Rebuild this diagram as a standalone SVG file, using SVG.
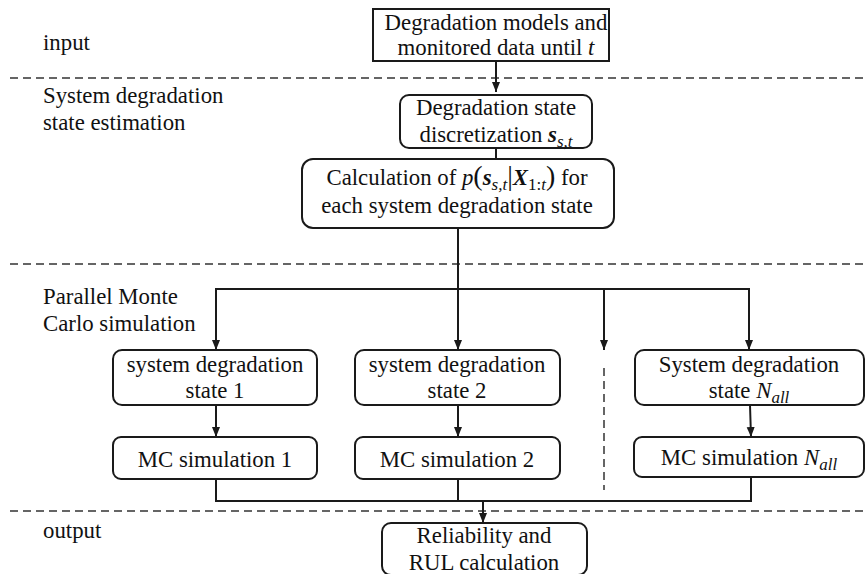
<svg xmlns="http://www.w3.org/2000/svg" width="866" height="574" viewBox="0 0 866 574">
<style>
.c{text-anchor:middle}
.box{fill:#fff;stroke:#1a1a1a;stroke-width:2}
.ln{fill:none;stroke:#1a1a1a;stroke-width:2}
.dash{fill:none;stroke:#333;stroke-width:1.5;stroke-dasharray:8 5}
.i{font-style:italic}
.bi{font-style:italic;font-weight:bold}
.sub{font-size:17px;font-style:italic}
.subu{font-size:17px}
</style>
<defs>
<marker id="arr" viewBox="0 0 10 10" refX="10" refY="5" markerWidth="10" markerHeight="10" markerUnits="userSpaceOnUse" orient="auto">
<path d="M0,1 L10,5 L0,9 Z" fill="#1a1a1a"/>
</marker>
</defs>
<rect width="866" height="574" fill="#fff"/>
<g font-family="'Liberation Serif', 'Times New Roman', Times, serif" font-size="22.8" fill="#111">
<g id="lanes">
<line class="dash" x1="10" y1="78" x2="866" y2="78"/>
<line class="dash" x1="10" y1="264" x2="866" y2="264"/>
<line class="dash" x1="10" y1="511" x2="866" y2="511"/>
<line class="dash" x1="604" y1="368" x2="604" y2="490"/>
<text x="43" y="50">input</text>
<text x="43" y="103">System degradation</text>
<text x="43" y="130">state estimation</text>
<text x="43" y="304">Parallel Monte</text>
<text x="43" y="331">Carlo simulation</text>
<text x="43" y="538">output</text>
</g>
<g id="connectors">
<line class="ln" x1="496" y1="61" x2="496" y2="92" marker-end="url(#arr)"/>
<line class="ln" x1="496" y1="148" x2="496" y2="174" marker-end="url(#arr)"/>
<line class="ln" x1="458" y1="228" x2="458" y2="350" marker-end="url(#arr)"/>
<line class="ln" x1="216" y1="289" x2="749" y2="289"/>
<line class="ln" x1="216" y1="288" x2="216" y2="350" marker-end="url(#arr)"/>
<line class="ln" x1="604" y1="288" x2="604" y2="350" marker-end="url(#arr)"/>
<line class="ln" x1="749" y1="288" x2="749" y2="350" marker-end="url(#arr)"/>
<line class="ln" x1="216" y1="405" x2="216" y2="437" marker-end="url(#arr)"/>
<line class="ln" x1="458" y1="405" x2="458" y2="437" marker-end="url(#arr)"/>
<line class="ln" x1="750" y1="405" x2="751" y2="437" marker-end="url(#arr)"/>
<polyline class="ln" points="216,479 216,501 751,501 751,477"/>
<line class="ln" x1="458" y1="479" x2="458" y2="501"/>
<line class="ln" x1="483" y1="500" x2="483" y2="523" marker-end="url(#arr)"/>
</g>
<g id="n-input">
<rect class="box" x="373" y="9" width="236" height="52"/>
<text class="c" x="496" y="30">Degradation models and</text>
<text class="c" x="496" y="55">monitored data until <tspan class="i">t</tspan></text>
</g>
<g id="n-discretization">
<rect class="box" x="400" y="95" width="192" height="53" rx="9"/>
<text class="c" x="496" y="142">discretization <tspan class="bi">s</tspan><tspan class="sub" dy="5">s,t</tspan></text>
<text class="c" x="496" y="115">Degradation state</text>
</g>
<g id="n-calculation">
<rect class="box" x="302" y="159" width="312" height="69" rx="11"/>
<text class="c" x="457" y="185">Calculation of <tspan class="i">p</tspan><tspan font-size="28">(</tspan><tspan class="bi">s</tspan><tspan class="sub" dy="5">s,t</tspan><tspan font-size="28" dy="-5">|</tspan><tspan class="bi">X</tspan><tspan class="subu" dy="5">1:</tspan><tspan class="sub">t</tspan><tspan font-size="28" dy="-5">)</tspan> for</text>
<text class="c" x="457" y="213">each system degradation state</text>
</g>
<g id="n-state1">
<rect class="box" x="113" y="350" width="204" height="55" rx="9"/>
<text class="c" x="215" y="372">system degradation</text>
<text class="c" x="215" y="398">state 1</text>
</g>
<g id="n-state2">
<rect class="box" x="355" y="350" width="205" height="55" rx="9"/>
<text class="c" x="457" y="372">system degradation</text>
<text class="c" x="457" y="398">state 2</text>
</g>
<g id="n-stateN">
<rect class="box" x="635" y="350" width="229" height="55" rx="9"/>
<text class="c" x="749" y="372">System degradation</text>
<text class="c" x="749" y="398">state <tspan class="i">N</tspan><tspan class="sub" dy="5">all</tspan></text>
</g>
<g id="n-mc1">
<rect class="box" x="113" y="437" width="204" height="42" rx="8"/>
<text class="c" x="215" y="467">MC simulation 1</text>
</g>
<g id="n-mc2">
<rect class="box" x="355" y="437" width="205" height="42" rx="8"/>
<text class="c" x="457" y="467">MC simulation 2</text>
</g>
<g id="n-mcN">
<rect class="box" x="634" y="437" width="230" height="40" rx="8"/>
<text class="c" x="749" y="465">MC simulation <tspan class="i">N</tspan><tspan class="sub" dy="5">all</tspan></text>
</g>
<g id="n-output">
<rect class="box" x="382" y="523" width="205" height="52" rx="9"/>
<text class="c" x="484" y="543">Reliability and</text>
<text class="c" x="484" y="570">RUL calculation</text>
</g>
</g>
</svg>
